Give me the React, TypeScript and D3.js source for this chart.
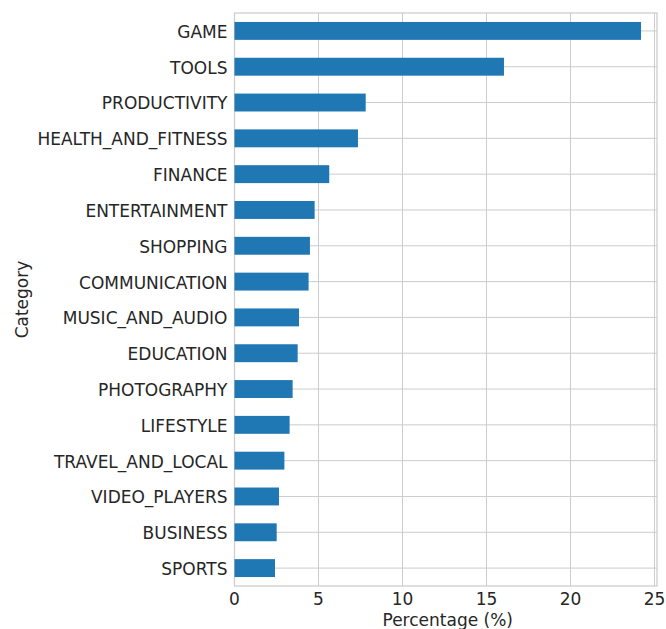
import React from "react";
import * as d3 from "d3";

const categories = [
  "GAME", "TOOLS", "PRODUCTIVITY", "HEALTH_AND_FITNESS", "FINANCE", "ENTERTAINMENT",
  "SHOPPING", "COMMUNICATION", "MUSIC_AND_AUDIO", "EDUCATION", "PHOTOGRAPHY",
  "LIFESTYLE", "TRAVEL_AND_LOCAL", "VIDEO_PLAYERS", "BUSINESS", "SPORTS",
];
const percentages = [
  24.2, 16.04, 7.81, 7.35, 5.64, 4.77, 4.49, 4.41, 3.84, 3.76, 3.46, 3.28, 2.97, 2.65, 2.51, 2.41,
];
const xTicks = [0, 5, 10, 15, 20, 25];
const xLabel = "Percentage (%)";
const yLabel = "Category";

const W = 666, H = 629;
const left = 234.5, right = 657, top = 13, bottom = 586;
const FONT = "DejaVu Sans, sans-serif";
const FS = 17;

export default function App() {
  const x = d3.scaleLinear().domain([0, 25.15]).range([left, right]);
  const y = d3.scaleBand().domain(categories).range([top, bottom]).paddingInner(0.5).paddingOuter(0.25);
  const tickColor = "#262626";
  const grid = "#cccccc";
  return (
    <svg width={W} height={H} style={{ position: "absolute", left: 0, top: 0 }} fontFamily={FONT}>
      <rect x={0} y={0} width={W} height={H} fill="#fff" />
      {xTicks.map((t) => (
        <line key={"gx" + t} x1={x(t)} x2={x(t)} y1={top} y2={bottom} stroke={grid} strokeWidth={1} />
      ))}
      {categories.map((c) => (
        <line key={"gy" + c} x1={left} x2={right} y1={y(c)! + y.bandwidth() / 2} y2={y(c)! + y.bandwidth() / 2} stroke={grid} strokeWidth={1} />
      ))}
      <rect x={left} y={top} width={right - left} height={bottom - top} fill="none" stroke={grid} strokeWidth={1.25} />
      {categories.map((c, i) => (
        <rect key={"b" + c} x={x(0)} y={y(c)!} width={x(percentages[i]) - x(0)} height={y.bandwidth()} fill="#1f77b4" />
      ))}
      {categories.map((c) => (
        <text key={"yl" + c} x={left - 7} y={y(c)! + y.bandwidth() / 2 + 1} dy="0.35em" textAnchor="end" fontSize={FS} fill={tickColor}>
          {c}
        </text>
      ))}
      {xTicks.map((t) => (
        <text key={"xl" + t} x={x(t)} y={bottom + 19} textAnchor="middle" fontSize={FS} fill={tickColor}>
          {t}
        </text>
      ))}
      <text x={(left + right) / 2 + 2} y={626} textAnchor="middle" fontSize={FS} fill={tickColor}>
        {xLabel}
      </text>
      <text transform={`translate(28, ${(top + bottom) / 2}) rotate(-90)`} textAnchor="middle" fontSize={FS} fill={tickColor}>
        {yLabel}
      </text>
    </svg>
  );
}
